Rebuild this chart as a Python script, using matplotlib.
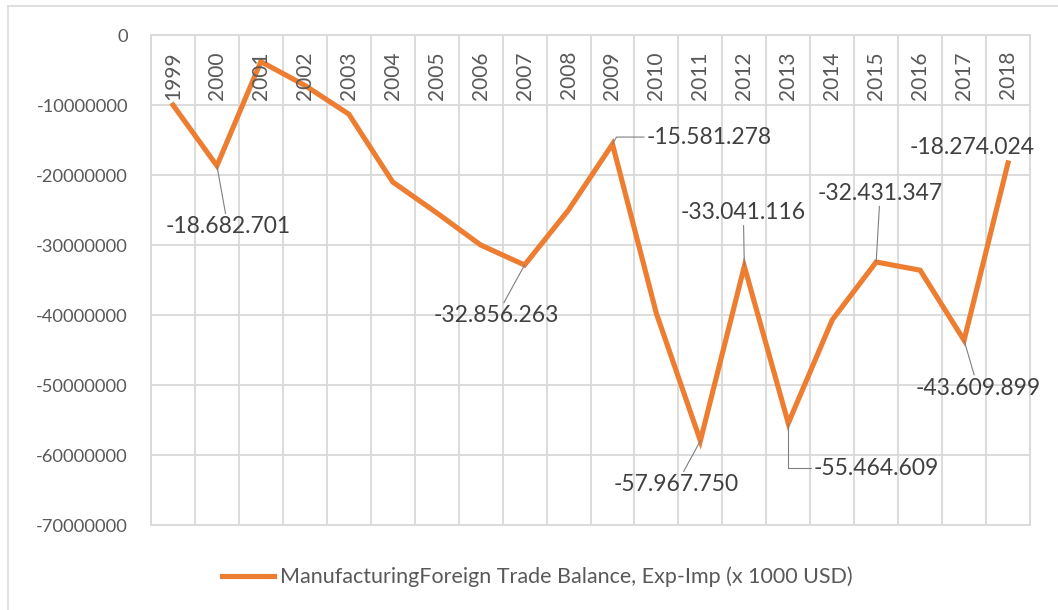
import matplotlib
matplotlib.use('Agg')
import matplotlib.pyplot as plt
from matplotlib.lines import Line2D
import numpy as np

plt.rcParams['font.family'] = ['Lato', 'DejaVu Sans']

years = ['1999', '2000', '2001', '2002', '2003', '2004', '2005', '2006', '2007', '2008',
         '2009', '2010', '2011', '2012', '2013', '2014', '2015', '2016', '2017', '2018']
balance = [-10000000, -18682701, -3800000, -7200000, -11300000, -21000000, -25400000,
           -30000000, -32856263, -25000000, -15581278, -39800000, -57967750, -33041116,
           -55464609, -40700000, -32431347, -33600000, -43609899, -18274024]

# labelled years -> (dx, dy) label offset in pixels, leader style
labelled = {'2000': (11, -61, None), '2007': (-28, -51, None),
            '2009': (97, 7, 'angle,angleA=0,angleB=60,rad=0'),
            '2011': (-24, -44, None), '2012': (-1, 54, None),
            '2013': (88, -45, 'angle,angleA=0,angleB=90,rad=0'),
            '2015': (4, 69, None), '2017': (14, -48, None), '2018': (-36, 15, 'none')}

series_name = 'ManufacturingForeign Trade Balance, Exp-Imp (x 1000 USD)'
orange = '#ED7D31'
grid_c = '#D9D9D9'
txt_c = '#595959'

fig = plt.figure(figsize=(10.58, 6.10), dpi=100)
ax = fig.add_axes([151/1058, 85/610, 879/1058, 490/610])

x = np.arange(len(years))
ax.plot(x, balance, color=orange, lw=3.7, solid_joinstyle='miter', label=series_name, zorder=3)

ax.set_xlim(-0.5, len(years) - 0.5)
ax.set_ylim(-70000000, 0)
yt = np.arange(-70000000, 1, 10000000)
ax.set_yticks(yt)
ax.set_yticklabels([f'{int(v)}' for v in yt], fontsize=13.2, color=txt_c)
ax.set_xticks(x)
ax.set_xticklabels([])
ax.set_xticks(np.arange(-0.5, len(years), 1), minor=True)
ax.tick_params(axis='both', which='both', length=0)
ax.tick_params(axis='y', pad=16.5)
ax.grid(axis='y', color=grid_c, lw=1.3)
ax.grid(axis='x', which='minor', color=grid_c, lw=1.3)
ax.grid(axis='x', which='major', visible=False)
for s in ax.spines.values():
    s.set_color(grid_c)
    s.set_linewidth(1.3)

# year labels inside the top band
for i, yr in enumerate(years):
    ax.annotate(yr, xy=(i, 0), xytext=(0, -16), textcoords='offset pixels',
                rotation=90, ha='center', va='top', fontsize=15, color=txt_c)

for yr, (dx, dy, style) in labelled.items():
    i = years.index(yr)
    v = balance[i]
    lab = f'{v:,}'.replace(',', '.')
    props = dict(arrowstyle='-', color='#7F7F7F', lw=0.8, shrinkA=0, shrinkB=0)
    if style == 'none':
        props = None
    elif style:
        props['connectionstyle'] = style
    ax.annotate(lab, xy=(i, v), xytext=(dx, dy), textcoords='offset pixels',
                ha='center', va='center', fontsize=16.5, color='#404040',
                arrowprops=props, zorder=4)

fig.legend(handles=[Line2D([0], [0], color=orange, lw=3.7)], labels=[series_name],
           loc='center', bbox_to_anchor=(537/1058, 33/610), frameon=False,
           fontsize=15.5, handlelength=2.45, handletextpad=0.25, labelcolor=txt_c)

# outer chart frame
fig.add_artist(Line2D([8/1058, 8/1058], [0, 1 - 6/610], color=grid_c, lw=1.2))
fig.add_artist(Line2D([8/1058, 1], [1 - 6/610, 1 - 6/610], color=grid_c, lw=1.2))

fig.savefig('out.png', dpi=100)
